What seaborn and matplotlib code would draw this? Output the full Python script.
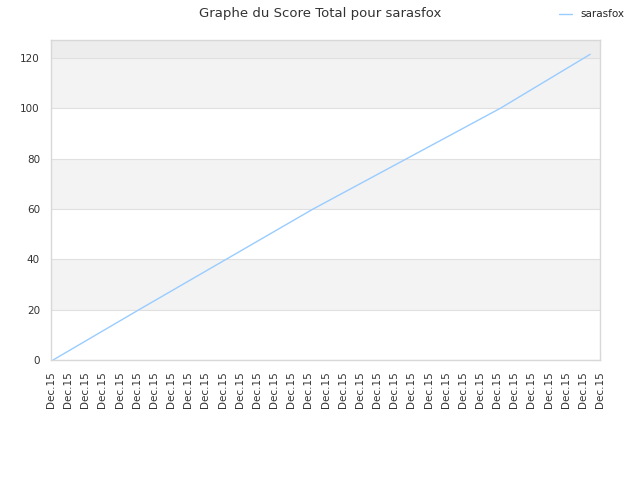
import seaborn as sns
import pandas as pd
import matplotlib.pyplot as plt

# values
player = "sarasfox"
tick_labels = ["Dec.15"] * 33
pos = [0.12, 5.13, 15.27, 26.17, 31.42]
score = [0, 20, 60, 100, 121.5]

data = pd.DataFrame({"pos": pos, "score": score, "player": player})

sns.set_style("white")
plt.rcParams['font.family'] = ['DejaVu Sans']

fig = plt.figure(figsize=(6.4, 4.8), dpi=100)
ax = fig.add_axes([0.0797, 0.25, 0.858, 0.6667])

# alternating bands
for lo in [20, 60, 100]:
    ax.axhspan(lo, lo + 20, color='#f3f3f3', zorder=0, lw=0)
ax.axhspan(120, 127.2, color='#ededed', zorder=0, lw=0)

sns.lineplot(data=data, x="pos", y="score", hue="player", palette=['#99ccff'],
             linewidth=1, ax=ax, legend=False)

ax.set_xlim(0, 32)
ax.set_ylim(0, 127.2)
ax.set_yticks([0, 20, 40, 60, 80, 100, 120])
ax.yaxis.grid(True, color='#e0e0e0', linewidth=0.8)
ax.set_axisbelow(True)
ax.set_xticks(range(len(tick_labels)))
ax.set_xticklabels(tick_labels, rotation=90)
ax.tick_params(axis='both', length=0, labelsize=7.5, colors='#333333', pad=8)
ax.set(xlabel='', ylabel='')
for s in ax.spines.values():
    s.set_color('#d8d8d8')
    s.set_linewidth(1)

fig.suptitle("Graphe du Score Total pour " + player, fontsize=9.5, color='#333333', y=0.985)

handle = plt.Line2D([], [], color='#99ccff', linewidth=1)
fig.legend([handle], [player], loc='upper right', bbox_to_anchor=(0.99, 1.0),
           frameon=False, fontsize=7.5, handlelength=1.2, handletextpad=0.8)

fig.savefig('out.png', dpi=100)
